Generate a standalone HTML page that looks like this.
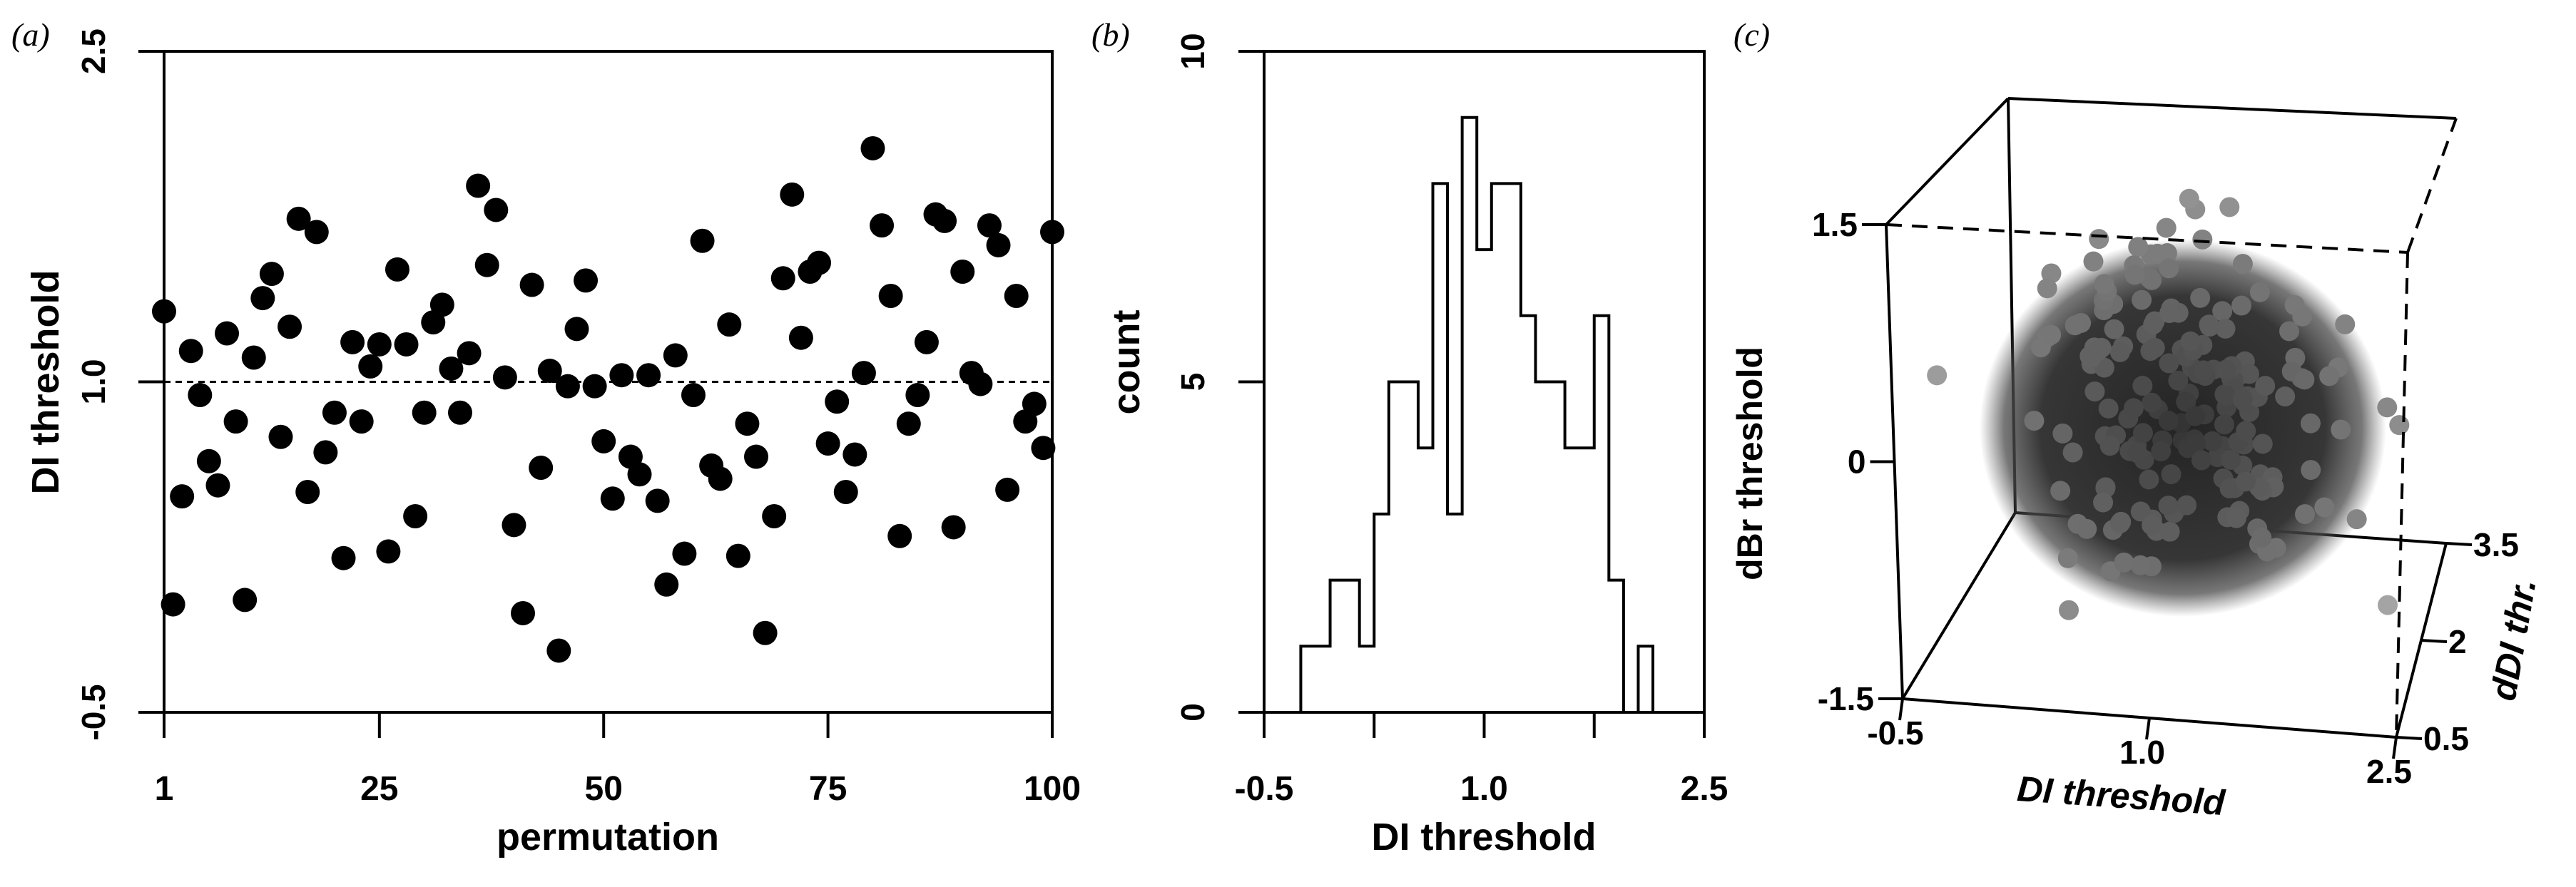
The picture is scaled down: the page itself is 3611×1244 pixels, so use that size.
<!DOCTYPE html>
<html><head><meta charset="utf-8">
<style>
html,body{margin:0;padding:0;background:#fff;}
svg{display:block;}
text{font-family:"Liberation Sans",Arial,sans-serif;font-weight:bold;fill:#000;}
.pl{font-family:"Liberation Serif",serif;font-style:italic;font-weight:normal;font-size:46px;}
</style></head>
<body>
<svg id="fig" width="3611" height="1244" viewBox="0 0 3611 1244" xmlns="http://www.w3.org/2000/svg">
<defs>
<radialGradient id="coreGrad" cx="0.5" cy="0.5" r="0.5">
<stop offset="0" stop-color="#242424"/>
<stop offset="0.7" stop-color="#363636"/>
<stop offset="0.88" stop-color="#4a4a4a" stop-opacity="0.75"/>
<stop offset="1" stop-color="#606060" stop-opacity="0"/>
</radialGradient>
</defs>
<rect width="3611" height="1244" fill="#fff"/>
<g id="pa"></g>
<g id="pb"></g>
<g id="pc"></g>
</svg>
<script>
// ---------- Panel (a) data ----------
const permIndex = Array.from({length:100},(_,i)=>i+1);
const diThreshold = [1.32,-0.01,0.48,1.14,0.94,0.64,0.53,1.22,0.82,0.01,1.11,1.38,1.49,0.75,1.25,1.74,0.50,1.68,0.68,0.86,
0.20,1.18,0.82,1.07,1.17,0.23,1.51,1.17,0.39,0.86,1.27,1.35,1.06,0.86,1.13,1.89,1.53,1.78,1.02,0.35,
-0.05,1.44,0.61,1.05,-0.22,0.98,1.24,1.46,0.98,0.73,0.47,1.03,0.66,0.58,1.03,0.46,0.08,1.12,0.22,0.94,
1.64,0.62,0.56,1.26,0.21,0.81,0.66,-0.14,0.39,1.47,1.85,1.20,1.50,1.54,0.72,0.91,0.50,0.67,1.04,2.06,
1.71,1.39,0.30,0.81,0.94,1.18,1.76,1.73,0.34,1.50,1.04,0.99,1.71,1.62,0.51,1.39,0.82,0.90,0.70,1.68];
const aXTicks = [1,25,50,75,100];
const aYTicks = [-0.5,1.0,2.5];
const aYTickLabels = ["-0.5","1.0","2.5"];

// ---------- Panel (b) data ----------
const binStart = [-0.25,-0.15,-0.05,0.05,0.15,0.25,0.35,0.45,0.55,0.65,0.75,0.85,0.95,1.05,1.15,1.25,1.35,1.45,1.55,1.65,1.75,1.85,1.95,2.05];
const binCounts = [1,1,2,2,1,3,5,5,4,8,3,9,7,8,8,6,5,5,4,4,6,2,0,1];
const binWidth = 0.1;
const bXTicks = [-0.5,0.25,1.0,1.75,2.5];
const bXTickLabels = ["-0.5","","1.0","","2.5"];
const bYTicks = [0,5,10];

// ---------- Panel (c) data ----------
const cDI = [1.05,0.62,1.48,0.85,1.30,0.40,1.72,0.95,1.15,0.55,1.60,0.78,1.22,1.90,0.68,1.35,0.90,0.30,1.52,1.08,
0.74,1.26,0.48,1.83,1.00,0.60,1.42,0.82,1.18,2.10,0.52,1.38,0.96,0.20,1.65,1.12,0.70,1.28,0.88,1.55,
0.44,1.02,1.76,0.66,1.33,0.92,1.47,0.58,1.20,2.25,0.80,1.10,0.35,1.58,0.98,1.40,0.72,1.24,0.50,1.95,
1.06,0.64,1.36,0.86,1.68,0.42,1.14,0.94,1.50,0.76,1.30,0.10,1.80,1.04,0.56,1.44,0.84,1.22,0.68,1.62,
1.00,0.46,1.34,0.90,2.00,0.74,1.16,0.60,1.52,0.96,1.26,0.38,1.70,0.82,1.08,0.54,1.40,1.88,0.70,1.20,
0.92,1.56,0.48,1.12,0.78,1.32,0.25,1.64,1.02,0.66,1.46,0.88,1.18,2.15,0.58,1.28,0.94,1.74,0.44,1.06,
0.80,1.38,0.62,1.50,1.00,0.34,1.24,0.86,1.66,0.72,1.14,0.52,1.42,0.98,1.85,0.64,1.30,0.90,0.15,1.58,
1.10,0.76,1.36,0.56,1.20,1.98,0.84,1.04,0.46,1.48,0.96,1.26,0.68,1.70,0.40,1.16,0.88,1.54,0.74,1.32,
-0.35,1.08,0.60,1.44,0.92,2.30,0.82,1.22,0.50,1.62,1.02,0.70,1.34,0.86,1.78,0.58,1.12,0.96,1.40,0.28,
1.18,0.78,1.52,0.66,1.28,0.90,2.40,1.06,0.54,1.36];
const cDBr = [0.05,0.62,-0.40,0.30,0.85,-0.15,0.45,-0.70,0.20,0.55,-0.30,1.00,0.10,-0.55,0.70,0.00,0.40,-0.85,0.25,0.95,
-0.20,0.50,0.15,-0.45,0.75,0.35,-0.10,1.15,-0.60,0.28,0.60,-0.35,0.08,0.88,-0.25,0.42,-0.75,0.18,0.68,-0.05,
0.52,-0.50,0.32,1.05,-0.18,0.12,0.80,-0.40,0.48,0.02,-0.65,0.38,0.90,-0.28,0.22,0.58,-0.12,0.72,-0.90,0.30,
0.45,-0.35,0.15,0.98,-0.48,0.26,0.65,-0.08,0.40,-0.62,0.10,0.35,0.82,-0.22,0.54,-0.80,0.06,0.70,-0.30,0.46,
1.20,-0.15,0.28,-0.55,0.62,0.12,-0.42,0.88,0.20,-0.70,0.50,0.04,0.76,-0.32,0.36,1.10,-0.05,0.58,-0.95,0.24,
0.66,-0.26,0.44,0.00,0.92,-0.58,0.18,0.52,-0.38,0.78,0.08,-0.18,1.25,-0.46,0.32,0.60,-0.10,0.40,-0.72,0.14,
0.84,-0.28,0.50,-0.02,0.70,-0.88,0.22,0.96,-0.36,0.10,0.56,-0.52,0.30,1.30,-0.20,0.64,0.16,-0.66,0.42,0.02,
0.74,-0.44,0.26,0.90,-0.12,0.48,-0.78,0.20,0.62,-0.32,1.02,0.06,-0.56,0.36,0.80,-0.24,0.54,-1.00,0.12,0.68,
0.40,-0.16,0.86,-0.42,0.18,-1.20,0.58,0.04,0.76,-0.34,0.46,-0.64,0.28,1.15,-0.08,0.38,-0.50,0.66,0.10,0.94,
-0.26,0.50,-0.74,0.22,1.35,-0.40,0.16,0.60,-0.14,0.44];
const cDDI = [1.4,1.0,1.8,0.7,2.2,1.3,1.6,0.9,2.0,1.1,1.5,2.4,0.9,1.7,1.2,2.1,0.6,1.9,1.4,0.8,
2.3,1.0,1.6,1.3,0.7,1.8,1.5,1.1,2.2,0.8,2.0,1.4,0.6,1.7,1.2,2.5,0.9,1.9,1.4,0.7,
2.1,1.3,1.6,1.0,2.3,0.6,1.8,1.4,1.1,2.0,0.8,1.5,2.4,1.2,1.7,0.9,2.2,1.3,0.6,1.9,
1.5,1.0,2.1,1.4,0.7,1.8,1.2,2.3,0.9,1.6,0.6,2.0,1.3,1.7,1.1,2.6,0.8,1.4,1.9,1.0,
2.2,0.6,1.6,1.2,1.8,0.7,2.1,1.4,0.9,1.5,2.4,1.1,1.7,0.6,2.0,1.3,1.4,0.8,2.3,1.0,
1.8,1.2,1.6,0.6,2.1,1.5,0.9,1.9,1.1,2.5,0.7,1.7,1.4,1.3,2.0,0.8,2.2,1.0,1.5,0.6,
1.8,1.2,2.4,0.9,1.6,1.4,1.1,2.0,0.6,1.9,1.3,1.7,0.7,2.1,1.4,1.0,2.3,0.8,1.6,1.2,
1.8,0.9,1.5,0.6,2.2,1.2,1.7,1.0,2.0,0.8,1.5,2.3,1.1,1.6,0.7,1.9,1.3,2.1,0.9,1.4,
1.0,1.7,2.4,1.2,0.8,1.8,1.5,2.0,1.1,0.7,1.6,2.2,1.3,0.9,1.9,1.4,2.5,1.0,1.7,1.2,
0.8,2.0,1.5,1.1,1.8,2.3,1.3,0.9,1.6,1.4];
const cXTicks = [-0.5,1.0,2.5];
const cYTicks = [-1.5,0,1.5];
const cYTickLabels = ["-1.5","0","1.5"];
const cZTicks = [0.5,2,3.5];
const cZTickLabels = ["0.5","2","3.5"];

const NS="http://www.w3.org/2000/svg";
function mk(parent,tag,attrs,txt){const e=document.createElementNS(NS,tag);for(const k in attrs)e.setAttribute(k,attrs[k]);if(txt!==undefined)e.textContent=txt;parent.appendChild(e);return e;}

// ===== Panel A =====
(function(){
const g=document.getElementById('pa');
const L=230,R=1475,T=72,B=999;
const sx=v=>L+(v-1)/(99)*(R-L);
const sy=v=>B-(v+0.5)/3*(B-T);
let r=mk(g,'rect',{x:L,y:T,width:R-L,height:B-T,fill:'none',stroke:'#000','stroke-width':4});


let ln=mk(g,'line',{x1:L,x2:R,y1:sy(1.0),y2:sy(1.0),stroke:'#000','stroke-width':3,'stroke-dasharray':'9 7'});


aYTicks.forEach((v,i)=>{
  const t=mk(g,'line',{x1:L-36,x2:L,y1:sy(v),y2:sy(v),stroke:'#000','stroke-width':4});
  
  
  const tx=mk(g,'text',{x:0,y:0,'font-size':46,'text-anchor':'middle',transform:`translate(147,${sy(v)}) rotate(-90)`},aYTickLabels[i]);
  
  
});
aXTicks.forEach(v=>{
  const t=mk(g,'line',{x1:sx(v),x2:sx(v),y1:B,y2:B+36,stroke:'#000','stroke-width':4});
  
  
  const tx=mk(g,'text',{x:sx(v),y:1122,'font-size':48,'text-anchor':'middle'},String(v));
  
  
});
permIndex.forEach((p,i)=>{
  const c=mk(g,'circle',{cx:sx(p),cy:sy(diThreshold[i]),r:17,fill:'#000'});
  
  
});
let yl=mk(g,'text',{x:0,y:0,'font-size':54,'text-anchor':'middle',transform:`translate(82,536) rotate(-90)`},'DI threshold');


let xl=mk(g,'text',{x:852,y:1192,'font-size':54,'text-anchor':'middle'},'permutation');


let pl=mk(g,'text',{x:16,y:64,class:'pl'},'(a)');


})();

// ===== Panel B =====
(function(){
const g=document.getElementById('pb');
const L=1772,R=2389,T=72,B=999;
const sx=v=>L+(v+0.5)/3*(R-L);
const sy=v=>B-v/10*(B-T);
let r=mk(g,'rect',{x:L,y:T,width:R-L,height:B-T,fill:'none',stroke:'#000','stroke-width':4});


let d=`M${sx(binStart[0])},${sy(0)}`;
binStart.forEach((s,i)=>{d+=` L${sx(s)},${sy(binCounts[i])} L${sx(s+binWidth)},${sy(binCounts[i])}`;});
d+=` L${sx(binStart[binStart.length-1]+binWidth)},${sy(0)}`;
let h=mk(g,'path',{d:d,fill:'none',stroke:'#000','stroke-width':4,'stroke-linejoin':'miter'});


bYTicks.forEach(v=>{
  const t=mk(g,'line',{x1:L-36,x2:L,y1:sy(v),y2:sy(v),stroke:'#000','stroke-width':4});
  
  
  const tx=mk(g,'text',{x:0,y:0,'font-size':46,'text-anchor':'middle',transform:`translate(1688,${sy(v)}) rotate(-90)`},String(v));
  
  
});
bXTicks.forEach((v,i)=>{
  const t=mk(g,'line',{x1:sx(v),x2:sx(v),y1:B,y2:B+36,stroke:'#000','stroke-width':4});
  
  
  if(bXTickLabels[i]){
  const tx=mk(g,'text',{x:sx(v),y:1122,'font-size':48,'text-anchor':'middle'},bXTickLabels[i]);
  
  }
});
let yl=mk(g,'text',{x:0,y:0,'font-size':54,'text-anchor':'middle',transform:`translate(1597,508) rotate(-90)`},'count');


let xl=mk(g,'text',{x:2080,y:1192,'font-size':54,'text-anchor':'middle'},'DI threshold');


let pl=mk(g,'text',{x:1530,y:64,class:'pl'},'(b)');


})();

// ===== Panel C =====
(function(){
const g=document.getElementById('pc');
const C={FLB:[2667,980],FRB:[3359,1034],FLT:[2644,315],FRT:[3375,354],BLB:[2825,719],BRB:[3429,762],BLT:[2815,138],BRT:[3443,166]};
const lerp=(a,b,t)=>[a[0]+(b[0]-a[0])*t,a[1]+(b[1]-a[1])*t];
function proj(x,y,z){
  const u=(x+0.5)/3,v=(y+1.5)/3,w=(z-0.5)/3;
  const fb=lerp(C.FLB,C.FRB,u),ft=lerp(C.FLT,C.FRT,u),bb=lerp(C.BLB,C.BRB,u),bt=lerp(C.BLT,C.BRT,u);
  return lerp(lerp(fb,ft,v),lerp(bb,bt,v),w);
}
function edge(a,b,dash,name){
  const e=mk(g,'line',{x1:a[0],y1:a[1],x2:b[0],y2:b[1],stroke:'#000','stroke-width':4});
  if(dash)e.setAttribute('stroke-dasharray','22 14');
  
  
}
edge(C.BLT,C.BRT,false,'box-edge');
edge(C.BLT,C.FLT,false,'box-edge');
edge(C.BLT,C.BLB,false,'box-edge');
edge(C.BLB,C.BRB,false,'box-edge');
edge(C.BLB,C.FLB,false,'box-edge');
const cen=[3060,600];
let core=mk(g,'ellipse',{cx:cen[0],cy:cen[1],rx:285,ry:265,fill:'url(#coreGrad)'});


const n=Math.min(cDI.length,cDBr.length,cDDI.length);
const idx=[];for(let i=0;i<n;i++)idx.push(i);
idx.sort((a,b)=>cDDI[b]-cDDI[a]);
idx.forEach(i=>{
  const p=proj(cDI[i],cDBr[i],cDDI[i]);
  const dd=Math.hypot(p[0]-cen[0],p[1]-cen[1]);
  const gr=Math.round(Math.min(205,50+dd*0.30));
  const c=mk(g,'circle',{cx:p[0],cy:p[1],r:14,fill:`rgb(${gr},${gr},${gr})`});
  
  
});
edge(C.FLT,C.FLB,false,'box-edge');
edge(C.FLB,C.FRB,false,'box-edge');
edge(C.FRB,C.BRB,false,'box-edge');
edge(C.FLT,C.FRT,true,'box-edge-hidden');
edge(C.FRT,C.FRB,true,'box-edge-hidden');
edge(C.FRT,C.BRT,true,'box-edge-hidden');
cYTicks.forEach((v,i)=>{
  const p=proj(-0.5,v,0.5);
  const t=mk(g,'line',{x1:p[0]-34,x2:p[0],y1:p[1],y2:p[1],stroke:'#000','stroke-width':4});
  
  
  const tx=mk(g,'text',{x:p[0]-40,y:p[1]+16,'font-size':46,'text-anchor':'end'},cYTickLabels[i]);
  
  
});
cXTicks.forEach(v=>{
  const p=proj(v,-1.5,0.5);
  const t=mk(g,'line',{x1:p[0],x2:p[0]-4,y1:p[1],y2:p[1]+30,stroke:'#000','stroke-width':4});
  
  
  const tx=mk(g,'text',{x:p[0]-10,y:p[1]+64,'font-size':46,'text-anchor':'middle'},v.toFixed(1));
  
  
});
cZTicks.forEach((v,i)=>{
  const p=proj(2.5,-1.5,v);
  const t=mk(g,'line',{x1:p[0],x2:p[0]+36,y1:p[1],y2:p[1]+2,stroke:'#000','stroke-width':4});
  
  
  const tx=mk(g,'text',{x:p[0]+38,y:p[1]+18,'font-size':46,'text-anchor':'start'},cZTickLabels[i]);
  
  
});
let xl=mk(g,'text',{x:0,y:0,'font-size':50,'text-anchor':'middle','font-style':'italic',transform:'translate(2972,1133) rotate(4)'},'DI threshold');


let yl=mk(g,'text',{x:0,y:0,'font-size':50,'text-anchor':'middle',transform:'translate(2470,650) rotate(-90)'},'dBr threshold');


let zl=mk(g,'text',{x:0,y:0,'font-size':50,'text-anchor':'middle','font-style':'italic',transform:'translate(3540,900) rotate(-80)'},'dDI thr.');


let pl=mk(g,'text',{x:2430,y:64,class:'pl'},'(c)');


})();
</script>
</body></html>
